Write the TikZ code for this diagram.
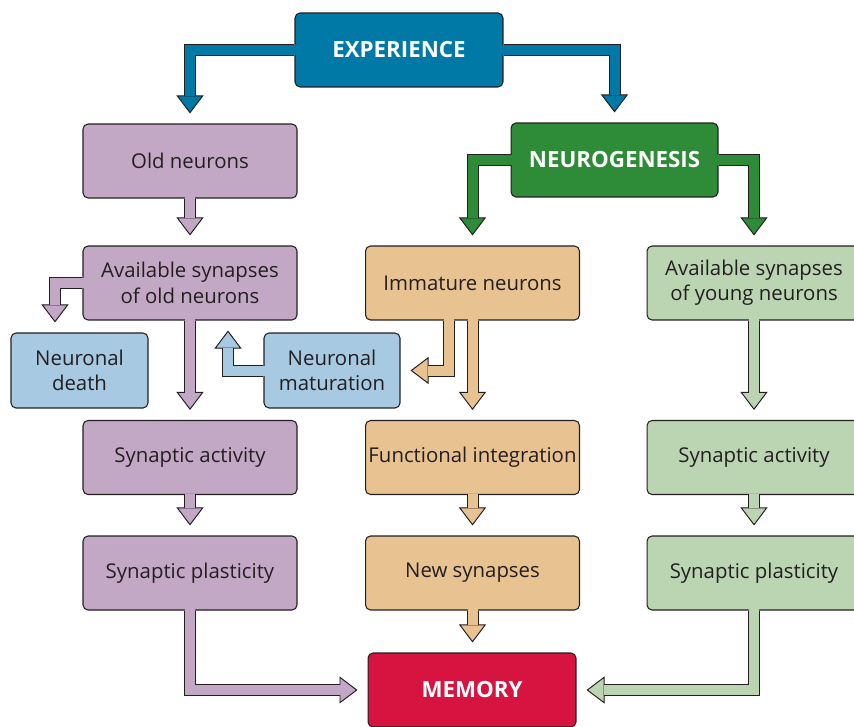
\documentclass[tikz,border=0pt]{standalone}
\usepackage{fontspec}
\setmainfont{Open Sans}
\usetikzlibrary{arrows.meta}

\definecolor{inkline}{RGB}{35,31,32}
\definecolor{expblue}{RGB}{0,121,166}
\definecolor{neurogreen}{RGB}{46,139,55}
\definecolor{oldpurple}{RGB}{195,168,198}
\definecolor{youngtan}{RGB}{233,194,146}
\definecolor{younggreen}{RGB}{187,213,179}
\definecolor{matblue}{RGB}{167,202,226}
\definecolor{memred}{RGB}{214,20,63}

\tikzset{
  box/.style={draw=inkline, line width=0.6pt, rounded corners=0.1cm,
    minimum width=4.28cm, minimum height=1.48cm, inner sep=0pt,
    align=center, text=inkline, font=\fontsize{11.6}{14.4}\selectfont},
  smallbox/.style={box, minimum width=2.74cm, minimum height=1.5cm},
  keybox/.style={box, minimum width=4.16cm, text=white,
    font=\fontsize{12.7}{15}\selectfont\bfseries},
}

% thick hollow-looking arrow: dark outline pass, then the coloured core
\newcommand{\blockarrow}[2]{%
  \draw[draw=inkline, line width=0.24cm, line join=miter, shorten >=0.2cm,
    -{Triangle[length=0.36cm, width=0.54cm, line width=0.55pt, fill=#1]}] #2;
  \draw[draw=#1, line width=0.2cm, line join=miter,
    shorten <=-0.03cm, shorten >=0.54cm] #2;
}

\begin{document}
\begin{tikzpicture}[x=0.02cm, y=-0.02cm]
   \useasboundingbox (0,0) rectangle (854,726);
   \clip (0,0) rectangle (854,726);

   % top row
   \path (399,50) node[keybox, fill=expblue] (exp) {EXPERIENCE};
   \path (190,161) node[box, fill=oldpurple] (old) {Old neurons};
   \path (614.5,160) node[keybox, minimum width=4.14cm, fill=neurogreen] (neuro) {NEUROGENESIS};

   % synapse / neuron row
   \path (190,283) node[box, fill=oldpurple] (avold) {Available synapses\\of old neurons};
   \path (472.5,283) node[box, fill=youngtan] (immat) {Immature neurons};
   \path (754,283) node[box, fill=younggreen] (avyoung) {Available synapses\\of young neurons};
   \path (79.5,370.5) node[smallbox, fill=matblue] (death) {Neuronal\\death};
   \path (332,370.5) node[smallbox, minimum width=2.72cm, fill=matblue] (matur) {Neuronal\\maturation};

   % activity and plasticity
   \path (190,457.5) node[box, fill=oldpurple] (actL) {Synaptic activity};
   \path (472.5,457.5) node[box, fill=youngtan] (integ) {Functional integration};
   \path (754,457.5) node[box, fill=younggreen] (actR) {Synaptic activity};
   \path (190,573) node[box, fill=oldpurple] (plastL) {Synaptic plasticity};
   \path (472.5,573) node[box, fill=youngtan] (newsyn) {New synapses};
   \path (754,573) node[box, fill=younggreen] (plastR) {Synaptic plasticity};
   \path (472,690) node[keybox, fill=memred] (memory) {MEMORY};

   % arrows
   \blockarrow{expblue}{(exp.west) -| (old.north)}
   \blockarrow{expblue}{(exp.east) -| (neuro.north)}
   \blockarrow{neurogreen}{(neuro.west) -| (immat.north)}
   \blockarrow{neurogreen}{(neuro.east) -| (avyoung.north)}
   \blockarrow{oldpurple}{(old.south) -- (avold.north)}
   \blockarrow{oldpurple}{(avold.west) -| ([xshift=-0.49cm]death.north)}
   \blockarrow{oldpurple}{(avold.south) -- (actL.north)}
   \blockarrow{matblue}{(matur.west) -| ([xshift=0.76cm]avold.south)}
   \blockarrow{youngtan}{([xshift=-0.47cm]immat.south) |- (matur.east)}
   \blockarrow{youngtan}{(immat.south) -- (integ.north)}
   \blockarrow{younggreen}{(avyoung.south) -- (actR.north)}
   \blockarrow{oldpurple}{(actL.south) -- (plastL.north)}
   \blockarrow{youngtan}{(integ.south) -- (newsyn.north)}
   \blockarrow{younggreen}{(actR.south) -- (plastR.north)}
   \blockarrow{youngtan}{(newsyn.south) -- (newsyn.south |- memory.north)}
   \blockarrow{oldpurple}{(plastL.south) |- (memory.west)}
   \blockarrow{younggreen}{(plastR.south) |- (memory.east)}
\end{tikzpicture}
\end{document}
